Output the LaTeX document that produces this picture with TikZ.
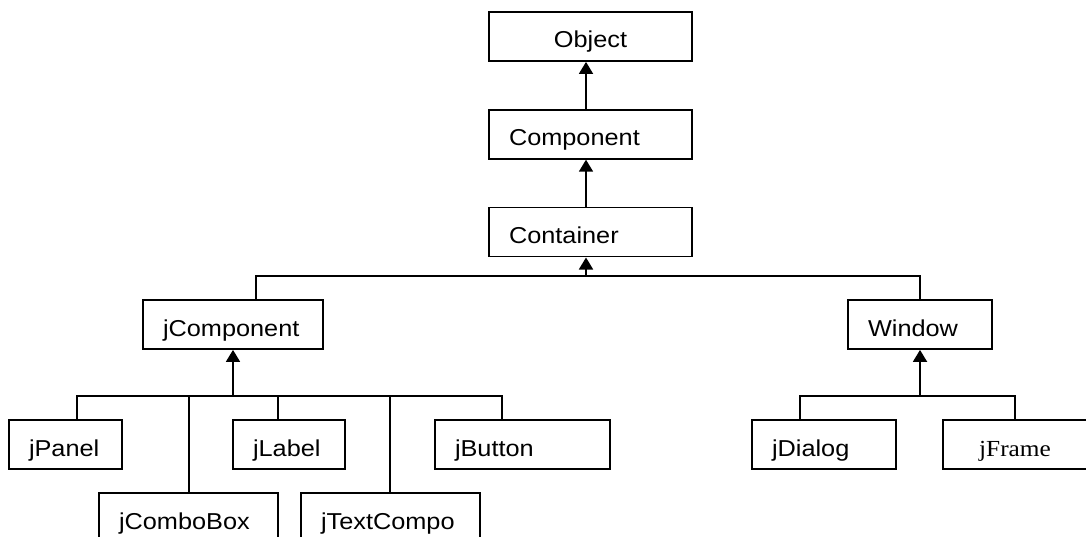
\documentclass[tikz,border=0pt]{standalone}
\usepackage{fontspec}
\setmainfont{Liberation Sans}[FakeStretch=1.1]
\newfontfamily\timesfont{Liberation Serif}[FakeStretch=1.1]
\usetikzlibrary{positioning,arrows.meta}

\begin{document}
\begin{tikzpicture}[x=1pt,y=-1pt,every node/.style={block},
				block/.style={draw,rectangle,line width=1.8pt,minimum height=49pt,inner ysep=0pt,inner xsep=20pt,
					text height=23pt,text depth=0pt,align=left,font=\fontsize{23}{27}\selectfont},
				tw/.style={text width=#1},
				link/.style={line width=1.8pt},
				isa/.style={link,-{Triangle[width=14pt,length=12pt]}}]
				\useasboundingbox (0,0) rectangle (1086,537);
				\clip (0,0) rectangle (1086,537);
				% top of the hierarchy
				\node (Object)    [tw=163pt,align=center] at (590.5,36.5) {Object};
				\node (Component) [tw=163pt,below=47pt of Object]    {Component};
				\node (Container) [tw=163pt,below=47pt of Component] {Container};
				% second level
				\node (jComponent) [tw=140pt] at (233,324.5) {jComponent};
				\node (Window)     [tw=104pt] at (920,324.5) {Window};
				% swing widgets
				\node (jPanel)     [tw=73pt]  at (65.5,444.5)  {jPanel};
				\node (jLabel)     [tw=72pt]  at (289,444.5)   {jLabel};
				\node (jButton)    [tw=135pt] at (522.5,444.5) {jButton};
				\node (jComboBox)  [tw=139pt] at (188.5,517.5) {jComboBox};
				\node (jTextCompo) [tw=139pt] at (390.5,517.5) {jTextCompo};
				% top-level windows
				\node (jDialog) [tw=104pt] at (824,444.5) {jDialog};
				\node (jFrame)  [tw=104pt,align=center] at (1015,444.5) {\timesfont jFrame};

				\coordinate (spine) at (586,0);
				\draw[isa] (Component.north -| spine) -- (Object.south -| spine);
				\draw[isa] (Container.north -| spine) -- (Component.south -| spine);

				\coordinate (top hub) at (586,276);
				\coordinate (b1) at (256,276);
				\coordinate (b2) at (920,276);
				\draw[isa] (top hub) -- (Container.south -| top hub);
				\draw[link] (jComponent.north -| b1) |- (b2) -- (Window.north);

				\coordinate (jc hub) at (233,396);
				\coordinate (p1) at (77,396);
				\coordinate (p2) at (189,396);
				\coordinate (p3) at (278,396);
				\coordinate (p4) at (390,396);
				\coordinate (p5) at (502,396);
				\draw[isa] (jc hub) -- (jComponent.south);
				\draw[link] (jPanel.north -| p1) |- (p5) -- (jButton.north -| p5);
				\foreach \k/\child in {2/jComboBox,3/jLabel,4/jTextCompo}
					\draw[link] (p\k) -- (\child.north -| p\k);

				\coordinate (win hub) at (920,396);
				\coordinate (q1) at (800,396);
				\coordinate (q2) at (1015,396);
				\draw[isa] (win hub) -- (Window.south);
				\draw[link] (jDialog.north -| q1) |- (q2) -- (jFrame.north);
			\end{tikzpicture}
\end{document}
